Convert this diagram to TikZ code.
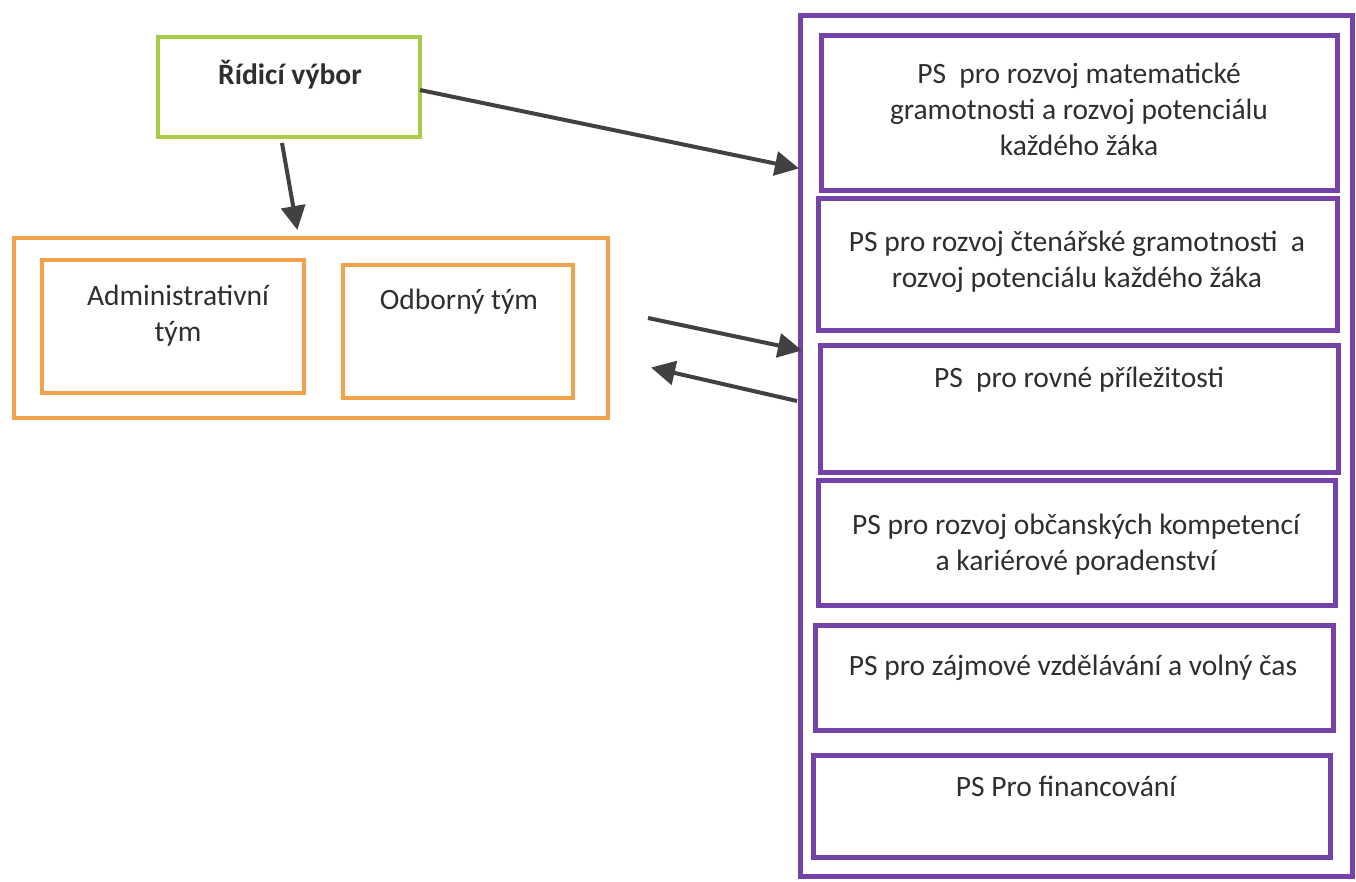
\documentclass[tikz,border=0pt]{standalone}
\usepackage{fontspec}
\setmainfont{Carlito}
\usetikzlibrary{arrows.meta}
\definecolor{pur}{HTML}{7442A8}
\definecolor{ora}{HTML}{F2A04A}
\definecolor{grn}{HTML}{A8CC48}
\definecolor{arr}{HTML}{414141}
\tikzset{
  box/.style={draw, rectangle, inner sep=0pt},
  pbox/.style={box, draw=pur, line width=5pt},
  obox/.style={box, draw=ora, line width=4pt},
  gbox/.style={box, draw=grn, line width=3.5pt},
  txt/.style={anchor=base, align=center, inner sep=0pt, font=\fontsize{29.5}{36}\selectfont, text=black!82},
  conn/.style={draw=arr, line width=4pt, -{Triangle[length=24pt,width=24pt]}, shorten >=-2pt}
}
\begin{document}
\begin{tikzpicture}[x=1pt,y=-1pt]
\useasboundingbox (0,0) rectangle (1356,881);
% left side
\node[gbox, minimum width=262pt, minimum height=100pt] (rv) at (289,87) {};
\node[txt, font=\fontsize{29.5}{36}\selectfont\bfseries] (rvt) at (290,84) {Řídicí výbor};
\node[obox, minimum width=594pt, minimum height=180pt] (ot) at (311,328) {};
\node[obox, minimum width=262pt, minimum height=133pt] (ad) at (173,326) {};
\node[txt] (adt) at (178,341) {Administrativní\\tým};
\node[obox, minimum width=230pt, minimum height=133pt] (od) at (458,331) {};
\node[txt] (odt) at (459,309) {Odborný tým};
% right side
\node[pbox, minimum width=552pt, minimum height=861pt] (po) at (1076,445.5) {};
\node[pbox, minimum width=516pt, minimum height=155pt] (p1) at (1079,112.5) {};
\node[txt] (p1t) at (1079,155) {PS\ \ pro rozvoj matematické\\gramotnosti a rozvoj potenciálu\\každého žáka};
\node[pbox, minimum width=519pt, minimum height=132pt] (p2) at (1077.5,264) {};
\node[txt] (p2t) at (1077,287) {PS pro rozvoj čtenářské gramotnosti\ \ a\\rozvoj potenciálu každého žáka};
\node[pbox, minimum width=518pt, minimum height=127pt] (p3) at (1079,408.5) {};
\node[txt] (p3t) at (1079,387) {PS\ \ pro rovné příležitosti};
\node[pbox, minimum width=517pt, minimum height=125pt] (p4) at (1076.5,542.5) {};
\node[txt] (p4t) at (1076,570) {PS pro rozvoj občanských kompetencí\\a kariérové poradenství};
\node[pbox, minimum width=518pt, minimum height=105pt] (p5) at (1074,677.5) {};
\node[txt] (p5t) at (1073,675) {PS pro zájmové vzdělávání a volný čas};
\node[pbox, minimum width=517pt, minimum height=102pt] (p6) at (1071.5,806) {};
\node[txt] (p6t) at (1066,796) {PS Pro financování};
% connector end points
\coordinate (a1s) at (420,90);
\coordinate (a1e) at (797,168);
\coordinate (a2s) at (282,143);
\coordinate (a2e) at (297,228);
\coordinate (a3s) at (648,318);
\coordinate (a3e) at (800,350);
\coordinate (a4s) at (797,401);
\coordinate (a4e) at (653,368);
\draw[conn] (a1s) -- (a1e);
\draw[conn] (a2s) -- (a2e);
\draw[conn] (a3s) -- (a3e);
\draw[conn] (a4s) -- (a4e);
\end{tikzpicture}
\end{document}
